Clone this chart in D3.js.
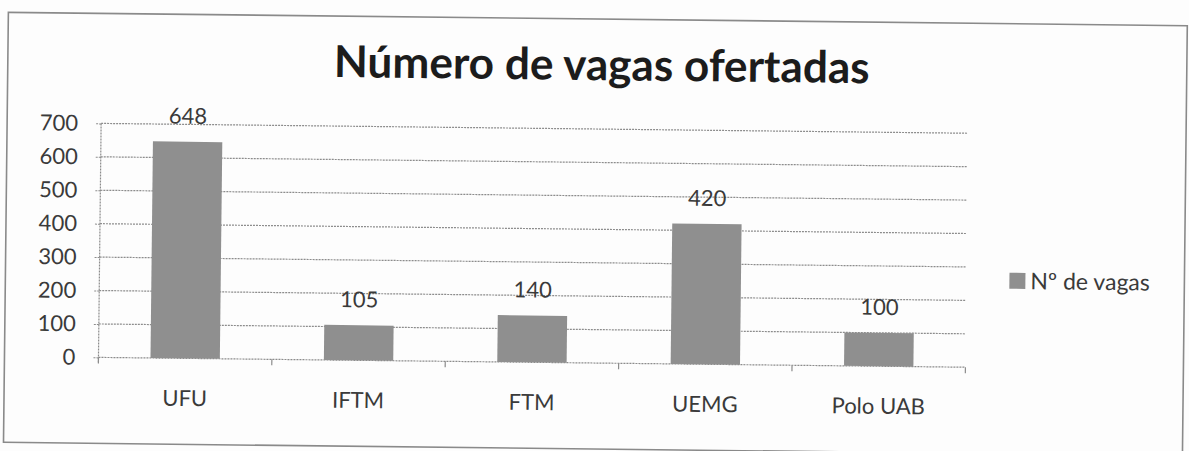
<!DOCTYPE html>
<html>
<head>
<meta charset="utf-8">
<script src="https://cdn.jsdelivr.net/npm/d3@7"></script>
<style>
  body { margin: 0; background: #fdfdfd; }
  text { font-family: Lato, "Open Sans", "DejaVu Sans", sans-serif; }
</style>
</head>
<body>
<script>
// chart data
const categories = ["UFU", "IFTM", "FTM", "UEMG", "Polo UAB"];
const vagas = [648, 105, 140, 420, 100];
const yTicks = [0, 100, 200, 300, 400, 500, 600, 700];
const seriesName = "Nº de vagas";
const chartTitle = "Número de vagas ofertadas";

const W = 1189, H = 451;
const plot = {left: 100, right: 967, top: 129, bottom: 363};

const svg = d3.select("body").append("svg")
  .attr("width", W)
  .attr("height", H);

svg.append("rect")
  .attr("width", W).attr("height", H)
  .attr("fill", "#fdfdfd");

// the scanned page is a little tilted
const g = svg.append("g")
  .attr("transform", "rotate(0.65,594,225)");

// outer frame of the chart
g.append("rect")
  .attr("x", 6).attr("y", 19)
  .attr("width", 1179).attr("height", 430)
  .attr("fill", "none")
  .attr("stroke", "#8a8a8a")
  .attr("stroke-width", 1.6);

const x = d3.scaleBand()
  .domain(categories)
  .range([plot.left, plot.right])
  .paddingInner(0.6)
  .paddingOuter(0.3);

const y = d3.scaleLinear()
  .domain([0, 700])
  .range([plot.bottom, plot.top]);

const lineColor = "#8c8c8c";

// gridlines
g.selectAll(".grid")
  .data(yTicks)
  .enter().append("line")
  .attr("class", "grid")
  .attr("x1", plot.left).attr("x2", plot.right)
  .attr("y1", d => y(d)).attr("y2", d => y(d))
  .attr("stroke", lineColor)
  .attr("stroke-width", 1.2)
  .attr("stroke-dasharray", "2,1");

// y axis
const yAxis = g.append("g")
  .attr("transform", "translate(" + plot.left + ",0)")
  .call(d3.axisLeft(y).tickValues(yTicks).tickSize(6).tickSizeOuter(0).tickPadding(17));
yAxis.select(".domain").remove();
yAxis.selectAll("line").attr("stroke", lineColor).attr("stroke-dasharray", "2,1");
yAxis.selectAll("text")
  .attr("fill", "#3a3a3a")
  .style("font-size", "22px");

g.append("line")
  .attr("x1", plot.left).attr("x2", plot.left)
  .attr("y1", plot.top).attr("y2", plot.bottom + 6)
  .attr("stroke", lineColor)
  .attr("stroke-width", 1.2)
  .attr("stroke-dasharray", "2,1");

// category boundary ticks
g.selectAll(".xtick")
  .data(d3.range(categories.length + 1))
  .enter().append("line")
  .attr("class", "xtick")
  .attr("x1", i => plot.left + i * x.step())
  .attr("x2", i => plot.left + i * x.step())
  .attr("y1", plot.bottom).attr("y2", plot.bottom + 6)
  .attr("stroke", lineColor)
  .attr("stroke-width", 1.2);

// x axis labels
const xAxis = g.append("g")
  .attr("transform", "translate(0," + plot.bottom + ")")
  .call(d3.axisBottom(x).tickSize(0).tickPadding(32));
xAxis.select(".domain").remove();
xAxis.selectAll("text")
  .attr("fill", "#3a3a3a")
  .style("font-size", "22px");

// bars
g.selectAll(".bar")
  .data(vagas)
  .enter().append("rect")
  .attr("class", "bar")
  .attr("x", (d, i) => x(categories[i]))
  .attr("y", d => y(d))
  .attr("width", x.bandwidth())
  .attr("height", d => y(0) - y(d))
  .attr("fill", "#8f8f8f");

// value labels
g.selectAll(".value")
  .data(vagas)
  .enter().append("text")
  .attr("class", "value")
  .attr("x", (d, i) => x(categories[i]) + x.bandwidth() / 2)
  .attr("y", d => y(d) - 18)
  .attr("text-anchor", "middle")
  .attr("fill", "#3a3a3a")
  .style("font-size", "22px")
  .text(d => d);

// legend
const legend = g.append("g")
  .attr("transform", "translate(1010,276)");
legend.append("rect")
  .attr("x", 0).attr("y", -8)
  .attr("width", 16).attr("height", 16)
  .attr("fill", "#8f8f8f");
legend.append("text")
  .attr("x", 21).attr("dy", "0.36em")
  .attr("fill", "#3a3a3a")
  .style("font-size", "23px")
  .text(seriesName);

// title, sized to the width it has in the picture
const title = g.append("text")
  .attr("x", 600).attr("y", 80)
  .attr("text-anchor", "middle")
  .attr("fill", "#1c1c1c")
  .style("font-weight", "bold")
  .style("font-size", "40px")
  .text(chartTitle);
const tw = title.node().getComputedTextLength();
title.style("font-size", (40 * 536 / tw) + "px");
</script>
</body>
</html>
